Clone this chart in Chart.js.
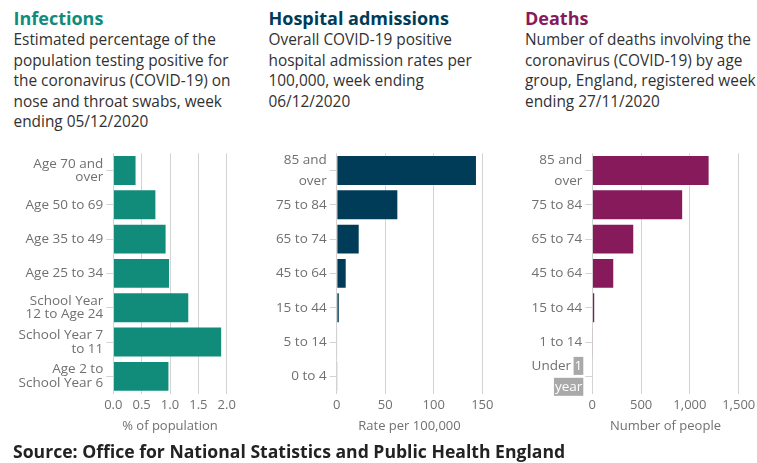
<!DOCTYPE html>
<html>
<head>
<meta charset="utf-8">
<script src="https://cdn.jsdelivr.net/npm/chart.js@4.4.0/dist/chart.umd.min.js"></script>
<style>
    body { margin: 0; width: 757px; height: 463px; overflow: hidden; background: #fff; font-family: 'Open Sans', sans-serif; position: relative; }
    .head { position: absolute; top: 7px; white-space: nowrap; }
    .head h2 { margin: 0; font-size: 18px; line-height: 22px; font-weight: 700; }
    .head p { margin: 1px 0 0; font-size: 15.4px; line-height: 20.5px; color: #323132; }
    canvas { position: absolute; top: 140px; }
    #source { position: absolute; left: 13px; top: 440px; font-size: 17.6px; line-height: 22px; font-weight: 700; color: #222; white-space: nowrap; }
</style>
</head>
<body>
<div class="head" style="left:13.5px">
    <h2 style="color:#118c7b">Infections</h2>
    <p>Estimated percentage of the<br>population testing positive for<br>the coronavirus (COVID-19) on<br>nose and throat swabs, week<br>ending 05/12/2020</p>
</div>
<div class="head" style="left:268.5px">
    <h2 style="color:#003c57">Hospital admissions</h2>
    <p>Overall COVID-19 positive<br>hospital admission rates per<br>100,000, week ending<br>06/12/2020</p>
</div>
<div class="head" style="left:525px">
    <h2 style="color:#871a5b">Deaths</h2>
    <p>Number of deaths involving the<br>coronavirus (COVID-19) by age<br>group, England, registered week<br>ending 27/11/2020</p>
</div>

<canvas id="infectionsChart" width="250" height="300" style="left:0px"></canvas>
<canvas id="hospitalChart" width="260" height="300" style="left:250px"></canvas>
<canvas id="deathsChart" width="252" height="300" style="left:505px"></canvas>

<div id="source">Source: Office for National Statistics and Public Health England</div>

<script>
// infections, % of population
const infectionLabels = [['Age 70 and', 'over'], 'Age 50 to 69', 'Age 35 to 49', 'Age 25 to 34', ['School Year', '12 to Age 24'], ['School Year 7', 'to 11'], ['Age 2 to', 'School Year 6']];
const infectionValues = [0.41, 0.76, 0.94, 1.0, 1.34, 1.92, 0.99];

// hospital admissions, rate per 100,000
const hospitalLabels = [['85 and', 'over'], '75 to 84', '65 to 74', '45 to 64', '15 to 44', '5 to 14', '0 to 4'];
const hospitalValues = [144.5, 63.5, 23.7, 10.3, 3.2, 0.8, 1.0];

// deaths, number of people
const deathLabels = [['85 and', 'over'], '75 to 84', '65 to 74', '45 to 64', '15 to 44', '1 to 14', ['Under 1', 'year']];
const deathValues = [1202, 931, 430, 225, 30, 1, 0];

const tickColour = '#707070';
const gridColour = '#d3d3d3';
const labelSize = 13.5;

Chart.defaults.font.family = "'Open Sans', sans-serif";
Chart.defaults.font.size = 13;
Chart.defaults.color = tickColour;

// grey highlight behind "1" and "year" on the deaths axis
const underOneYear = {
    id: 'underOneYear',
    afterDraw: function (chart) {
        if (chart.canvas.id !== 'deathsChart') {
            return;
        }
        const scale = chart.scales.y;
        const ctx = chart.ctx;
        const index = deathLabels.length - 1;
        const lines = deathLabels[index];
        const lineHeight = labelSize * 1.55;
        const right = scale.right - 7 - 3;
        const y = scale.getPixelForTick(index);
        const parts = [lines[0].split(' ').pop(), lines[1]];

        ctx.save();
        ctx.font = labelSize + "px 'Open Sans'";
        ctx.textAlign = 'right';
        ctx.textBaseline = 'middle';
        parts.forEach(function (text, i) {
            let ly = y + (i - 0.5) * lineHeight;
            let w = ctx.measureText(text).width;
            ctx.fillStyle = '#a9a9a9';
            ctx.fillRect(right - w - 1, ly - 9, w + 2, 18);
            ctx.fillStyle = '#fff';
            ctx.fillText(text, right, ly);
        });
        ctx.restore();
    }
};

function buildChart(canvasId, labels, values, colour, axis) {
    const config = {
        type: 'bar',
        data: {
            labels: labels,
            datasets: [{
                data: values,
                backgroundColor: colour,
                borderColor: 'rgba(255,255,255,0.3)',
                borderWidth: 1,
                barPercentage: 0.9,
                categoryPercentage: 1,
            }]
        },
        plugins: [underOneYear],
        options: {
            indexAxis: 'y',
            responsive: false,
            animation: false,
            layout: {
                padding: { top: 13.3, right: axis.padRight, left: 0, bottom: 0 }
            },
            plugins: {
                legend: { display: false },
                tooltip: { enabled: false },
            },
            scales: {
                x: {
                    min: 0,
                    max: axis.max,
                    ticks: {
                        stepSize: axis.step,
                        padding: 4,
                        maxRotation: 0,
                        autoSkip: false,
                        callback: axis.format,
                    },
                    grid: { color: gridColour, drawTicks: false },
                    border: { display: false },
                    title: {
                        display: true,
                        text: axis.title,
                        color: tickColour,
                        padding: { top: 0, bottom: 6 },
                    },
                    afterFit: function (scale) {
                        scale.height = 46.5;
                        scale.paddingLeft = 0;
                        scale.paddingRight = 0;
                    }
                },
                y: {
                    ticks: {
                        padding: 3,
                        autoSkip: false,
                        font: { size: labelSize, lineHeight: axis.lineHeight },
                    },
                    grid: {
                        drawOnChartArea: false,
                        drawTicks: true,
                        tickLength: 7,
                        offset: false,
                        color: gridColour,
                    },
                    border: { display: false },
                    afterFit: function (scale) {
                        scale.width = axis.yWidth;
                        scale.paddingTop = 0;
                        scale.paddingBottom = 0;
                    }
                }
            }
        }
    };
    return new Chart(document.getElementById(canvasId), config);
}

buildChart('infectionsChart', infectionLabels, infectionValues, '#118c7b', {
    max: 2, step: 0.5, title: '% of population', yWidth: 113.3, padRight: 23.3, lineHeight: 1.0,
    format: function (value) { return value.toFixed(1); }
});

buildChart('hospitalChart', hospitalLabels, hospitalValues, '#003c57', {
    max: 150, step: 50, title: 'Rate per 100,000', yWidth: 86.7, padRight: 27.7, lineHeight: 1.55,
    format: function (value) { return value.toLocaleString('en-GB'); }
});

buildChart('deathsChart', deathLabels, deathValues, '#871a5b', {
    max: 1500, step: 500, title: 'Number of people', yWidth: 87.3, padRight: 18.3, lineHeight: 1.55,
    format: function (value) { return value.toLocaleString('en-GB'); }
});
</script>
</body>
</html>
